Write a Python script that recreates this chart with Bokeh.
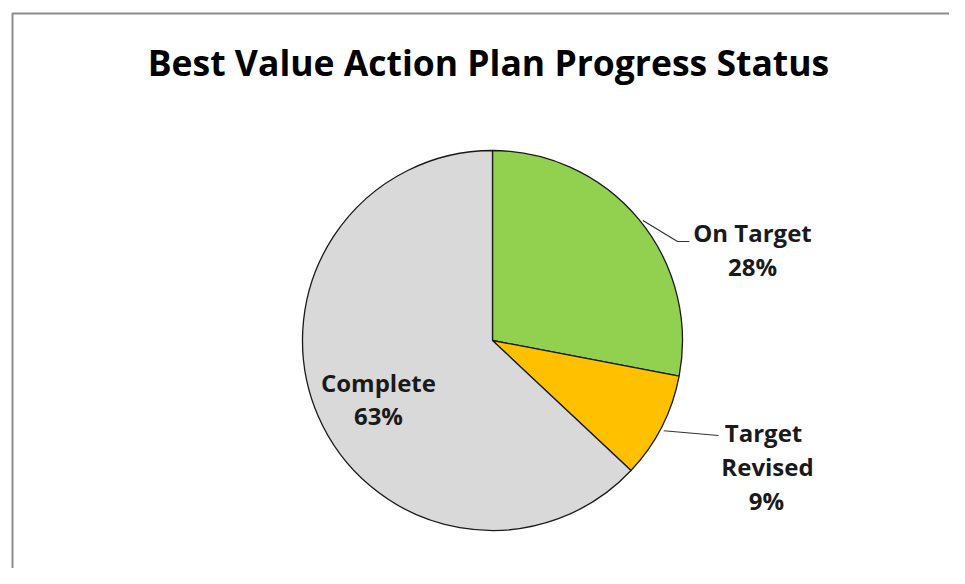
import math
from bokeh.plotting import figure
from bokeh.models import Range1d
from bokeh.core.properties import value
from bokeh.embed import file_html
from bokeh.resources import INLINE

# ---- data ----
categories = ["On Target", "Target Revised", "Complete"]
percents = [28, 9, 63]
colors = ["#92D050", "#FFC000", "#D9D9D9"]
title_text = "Best Value Action Plan Progress Status"

W, H = 949, 568
FONT = "Open Sans"

def X(px):  # reference x -> data x
    return px

def Y(py):  # reference y -> data y
    return H - py

p = figure(width=W, height=H, output_backend="svg", toolbar_location=None,
           x_range=Range1d(0, W), y_range=Range1d(0, H), min_border=0)
p.axis.visible = False
p.grid.visible = False
p.outline_line_color = None
p.background_fill_color = "white"

# chart border (gray)
p.line([X(12), X(12), W + 5], [-5, Y(13), Y(13)], line_color="#8c8c8c", line_width=2)

cx, cy, r = X(492), Y(340), 190
total = sum(percents)
starts, ends, mids = [], [], []
a = math.pi / 2
for v in percents:
    sweep = 2 * math.pi * v / total
    starts.append(a)
    ends.append(a - sweep)
    mids.append(a - sweep / 2)
    a -= sweep

p.wedge(x=cx, y=cy, radius=r, start_angle=starts, end_angle=ends,
        direction="clock", fill_color=colors, line_color="#1a1a1a", line_width=1.3)

# title
p.text(x=[X(488)], y=[Y(61)], text=[title_text], text_font=value(FONT),
       text_font_style="bold", text_font_size="35.5px", text_align="center",
       text_baseline="middle", text_color="#000000")

lab_style = dict(text_font=value(FONT), text_font_style="bold", text_font_size="24px",
                 text_align="center", text_baseline="middle", text_color="#1a1a1a")

# On Target: outside label with leader
m = mids[0]
sx, sy = cx + r * math.cos(m), cy + r * math.sin(m)
p.line([sx + 4, X(677), X(689)], [sy - 1, Y(241), Y(241)], line_color="#333333", line_width=1.2)
p.text(x=[X(752), X(752)], y=[Y(232), Y(266)],
       text=[categories[0], f"{percents[0]}%"], **lab_style)

# Target Revised: outside label with leader
m = mids[1]
sx, sy = cx + r * math.cos(m), cy + r * math.sin(m)
p.line([sx + 2, X(718)], [sy - 4, Y(435)], line_color="#333333", line_width=1.2)
words = categories[1].split()
p.text(x=[X(763), X(767), X(766)], y=[Y(432), Y(466), Y(500)],
       text=[words[0], words[1], f"{percents[1]}%"], **lab_style)

# Complete: inside label
m = mids[2]
lx, ly = cx + 0.7 * r * math.cos(m), cy + 0.7 * r * math.sin(m)
p.text(x=[lx + 8, lx + 8], y=[ly + 11, ly - 22],
       text=[categories[2], f"{percents[2]}%"], **lab_style)

open("out.html", "w").write(file_html(p, INLINE))
